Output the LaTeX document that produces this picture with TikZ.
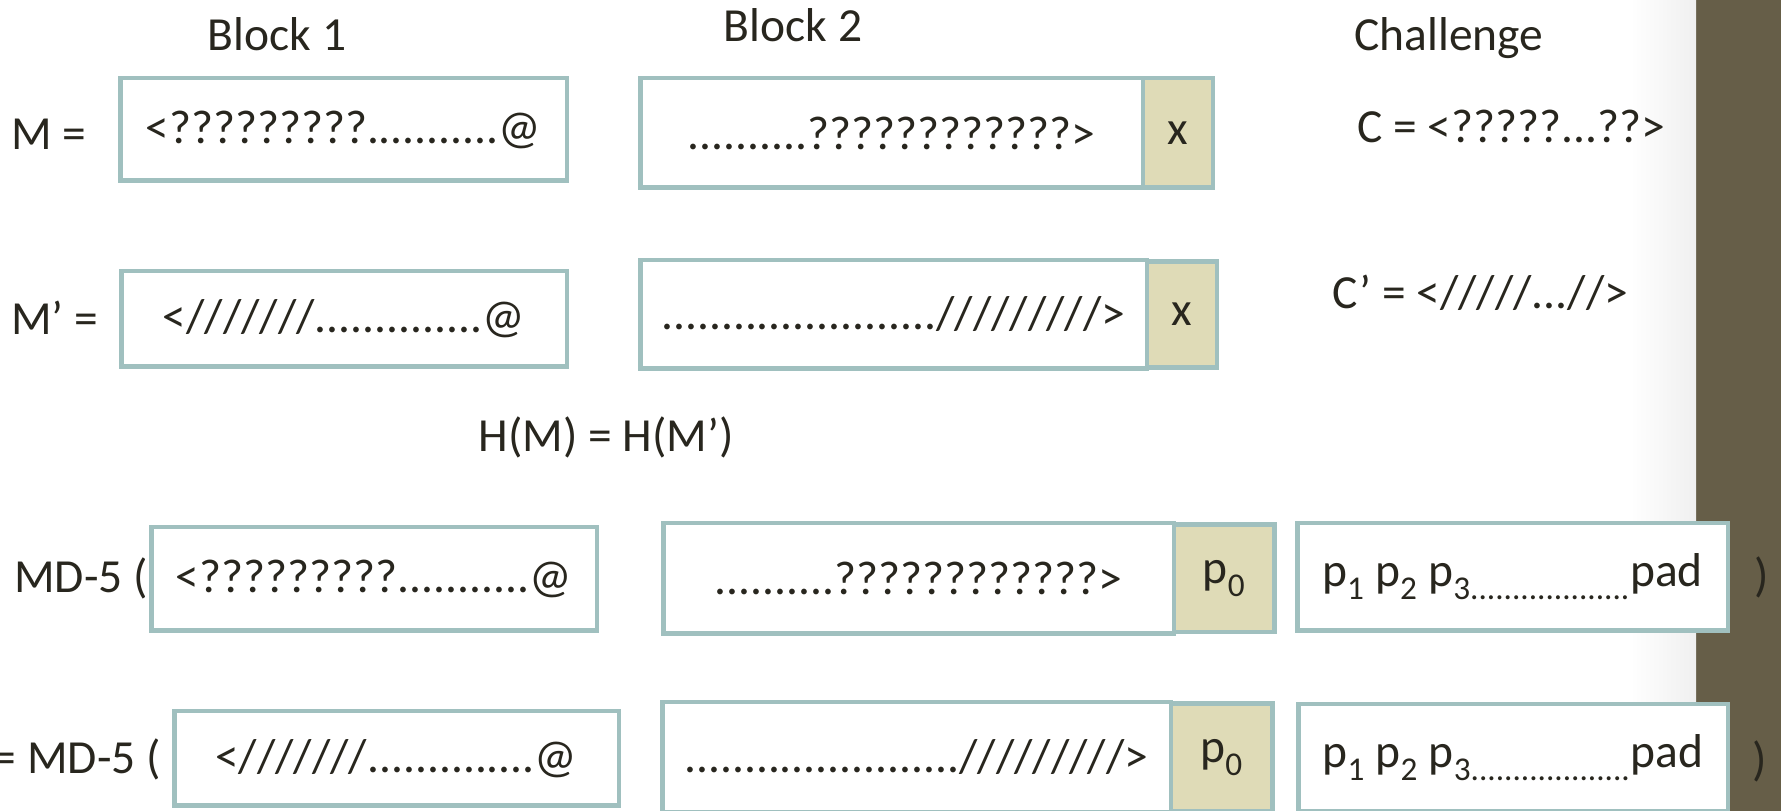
\documentclass[tikz,border=0pt]{standalone}
\usepackage{fontspec}
\setmainfont{Carlito}
\usetikzlibrary{positioning}
\definecolor{boxline}{RGB}{160,192,191}
\definecolor{tagfill}{RGB}{223,219,183}
\definecolor{barbrown}{RGB}{102,94,72}
\definecolor{ink}{RGB}{40,38,30}
\tikzset{
	blk/.style={draw=boxline, line width=4.5pt, fill=white, inner sep=0pt, outer sep=0pt, text=ink},
	tag/.style={blk, fill=tagfill},
	lbl/.style={text=ink, inner sep=0pt},
}
\begin{document}
\begin{tikzpicture}[x=1pt, y=1pt, font=\fontsize{47.5}{57}\selectfont]
	\useasboundingbox (0,0) rectangle (1781,811);
	\clip (0,0) rectangle (1781,811);
	% side bar
	\fill[barbrown] (1696,0) rectangle (1781,811);
	\shade[left color=white, right color=black!6] (1630,0) rectangle (1696,811);
	
	\node[lbl] (t1) at (277,777) {Block 1};
	\node[lbl] (t2) at (793,786) {Block 2};
	\node[lbl] (t3) at (1449,773) {Challenge};
	
	% messages
	\node[lbl, anchor=west] (lm) at (11,677) {M =};
	\node[blk, minimum width=446.5pt, minimum height=102.5pt] (m1a) at (343.5,681.5) {<?????????...........@};
	\node[blk, minimum width=502.5pt, minimum height=109.5pt] (m1b) at (891.5,678) {..........????????????>};
	\node[tag, minimum width=70pt, minimum height=109.5pt, right=0pt of m1b] (m1x) {x};
	\node[lbl, anchor=west] (c1) at (1357,685) {C = <?????...??>};
	
	\node[lbl, anchor=west] (lmm) at (11,493) {M’ =};
	\node[blk, minimum width=445.5pt, minimum height=95.5pt] (m2a) at (344,492) {<///////..............@};
	\node[blk, minimum width=506.5pt, minimum height=108.5pt] (m2b) at (893.5,496.5) {......................./////////>};
	\node[tag, minimum width=70pt, minimum height=106pt, right=0pt of m2b] (m2x) {x};
	\node[lbl, anchor=west] (c2) at (1332,518) {C’ = </////...//>};
	
	\node[lbl] (eq) at (606,374) {H(M) = H(M’)};
	
	% hashes
	\node[lbl, anchor=west] (lh1) at (14,233) {MD-5 (};
	\node[blk, minimum width=445.5pt, minimum height=103.5pt] (h1a) at (374,232) {<?????????...........@};
	\node[blk, minimum width=510.5pt, minimum height=110.5pt] (h1b) at (918.5,232.5) {..........????????????>};
	\node[tag, minimum width=100.5pt, minimum height=107.5pt, right=0pt of h1b] (h1p) {p\textsubscript{0}};
	\node[blk, minimum width=430.5pt, minimum height=107.5pt] (h1d) at (1512.5,234) {p\textsubscript{1} p\textsubscript{2} p\textsubscript{3...................}pad};
	\node[lbl] (r1) at (1762,234) {)};
	
	\node[lbl, anchor=east] (lh2) at (161,52) {= MD-5 (};
	\node[blk, minimum width=444.5pt, minimum height=94.5pt] (h2a) at (396.5,52.5) {<///////..............@};
	\node[blk, minimum width=508.5pt, minimum height=110.5pt] (h2b) at (916.5,53.5) {......................./////////>};
	\node[tag, minimum width=101.5pt, minimum height=107.5pt, right=0pt of h2b] (h2p) {p\textsubscript{0}};
	\node[blk, minimum width=429.5pt, minimum height=107.5pt] (h2d) at (1513,53) {p\textsubscript{1} p\textsubscript{2} p\textsubscript{3...................}pad};
	\node[lbl] (r2) at (1760,50) {)};
\end{tikzpicture}
\end{document}
